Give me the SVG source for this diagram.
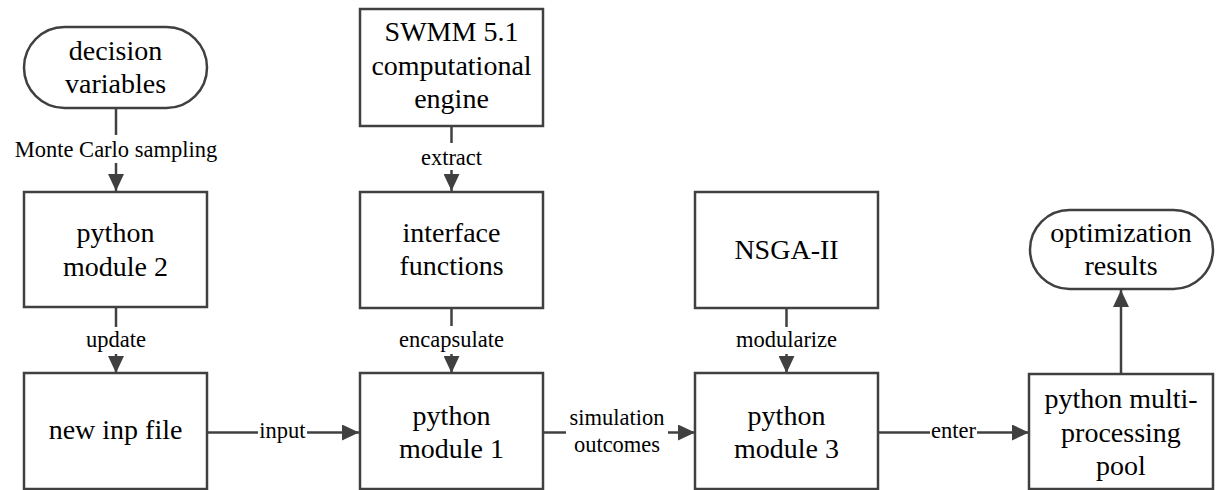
<svg xmlns="http://www.w3.org/2000/svg" width="1217" height="490" viewBox="0 0 1217 490">
<style>
.box{fill:#ffffff;stroke:#404040;stroke-width:2.5}
.t{font-family:"Liberation Serif","Times New Roman",serif;font-size:28px;fill:#000;text-anchor:middle}
.l{font-family:"Liberation Serif","Times New Roman",serif;font-size:22.5px;fill:#000;text-anchor:middle}
.c{stroke:#404040;stroke-width:2.5;fill:none}
</style>
<defs>
<marker id="ah" markerWidth="17" markerHeight="16" refX="17" refY="8" orient="auto" markerUnits="userSpaceOnUse">
<path d="M0,0 L17,8 L0,16 Z" fill="#404040"/>
</marker>
</defs>
<rect width="1217" height="490" fill="#ffffff"/>
<g id="connectors">
<line class="c" x1="116" y1="108" x2="116" y2="135"/>
<line class="c" x1="116" y1="163" x2="116" y2="191" marker-end="url(#ah)"/>
<line class="c" x1="116" y1="307" x2="116" y2="327"/>
<line class="c" x1="116" y1="354" x2="116" y2="373" marker-end="url(#ah)"/>
<line class="c" x1="451.5" y1="126" x2="451.5" y2="143"/>
<line class="c" x1="451.5" y1="170" x2="451.5" y2="191" marker-end="url(#ah)"/>
<line class="c" x1="451.5" y1="308" x2="451.5" y2="326"/>
<line class="c" x1="451.5" y1="354" x2="451.5" y2="373" marker-end="url(#ah)"/>
<line class="c" x1="786.5" y1="308" x2="786.5" y2="327"/>
<line class="c" x1="786.5" y1="354" x2="786.5" y2="373" marker-end="url(#ah)"/>
<line class="c" x1="207" y1="432.5" x2="258" y2="432.5"/>
<line class="c" x1="307" y1="432.5" x2="359" y2="432.5" marker-end="url(#ah)"/>
<line class="c" x1="543" y1="432.5" x2="566" y2="432.5"/>
<line class="c" x1="668" y1="432.5" x2="695" y2="432.5" marker-end="url(#ah)"/>
<line class="c" x1="878" y1="432.5" x2="930" y2="432.5"/>
<line class="c" x1="977" y1="432.5" x2="1029" y2="432.5" marker-end="url(#ah)"/>
<line class="c" x1="1121" y1="374" x2="1121" y2="290" marker-end="url(#ah)"/>
<text class="l" x="116" y="157">Monte Carlo sampling</text>
<text class="l" x="116" y="347">update</text>
<text class="l" x="451.5" y="165">extract</text>
<text class="l" x="451.5" y="347">encapsulate</text>
<text class="l" x="786.5" y="347">modularize</text>
<text class="l" x="282.5" y="438">input</text>
<text class="l" x="617" y="425">simulation</text>
<text class="l" x="617" y="452">outcomes</text>
<text class="l" x="953.5" y="438">enter</text>
</g>
<g id="decision-variables">
<rect class="box" x="24" y="27" width="183" height="81" rx="40.5" ry="40.5"/>
<text class="t" x="115.5" y="60">decision</text>
<text class="t" x="115.5" y="93">variables</text>
</g>
<g id="python-module-2">
<rect class="box" x="24" y="192" width="183" height="115"/>
<text class="t" x="115.5" y="242">python</text>
<text class="t" x="115.5" y="276">module 2</text>
</g>
<g id="new-inp-file">
<rect class="box" x="24" y="373" width="183" height="116"/>
<text class="t" x="115.5" y="439">new inp file</text>
</g>
<g id="swmm-engine">
<rect class="box" x="360" y="9" width="183" height="117"/>
<text class="t" x="451.5" y="41">SWMM 5.1</text>
<text class="t" x="451.5" y="75">computational</text>
<text class="t" x="451.5" y="108">engine</text>
</g>
<g id="interface-functions">
<rect class="box" x="360" y="192" width="183" height="116"/>
<text class="t" x="451.5" y="242">interface</text>
<text class="t" x="451.5" y="275">functions</text>
</g>
<g id="python-module-1">
<rect class="box" x="360" y="373" width="183" height="116"/>
<text class="t" x="451.5" y="425">python</text>
<text class="t" x="451.5" y="458">module 1</text>
</g>
<g id="nsga-ii">
<rect class="box" x="695" y="192" width="183" height="116"/>
<text class="t" x="786.5" y="259">NSGA-II</text>
</g>
<g id="python-module-3">
<rect class="box" x="695" y="373" width="183" height="116"/>
<text class="t" x="786.5" y="425">python</text>
<text class="t" x="786.5" y="458">module 3</text>
</g>
<g id="optimization-results">
<rect class="box" x="1030" y="210" width="183" height="79" rx="39.5" ry="39.5"/>
<text class="t" x="1121" y="242">optimization</text>
<text class="t" x="1121" y="275">results</text>
</g>
<g id="python-multiprocessing-pool">
<rect class="box" x="1029" y="374" width="184" height="115"/>
<text class="t" x="1121" y="408">python multi-</text>
<text class="t" x="1121" y="442">processing</text>
<text class="t" x="1121" y="475">pool</text>
</g>
</svg>
